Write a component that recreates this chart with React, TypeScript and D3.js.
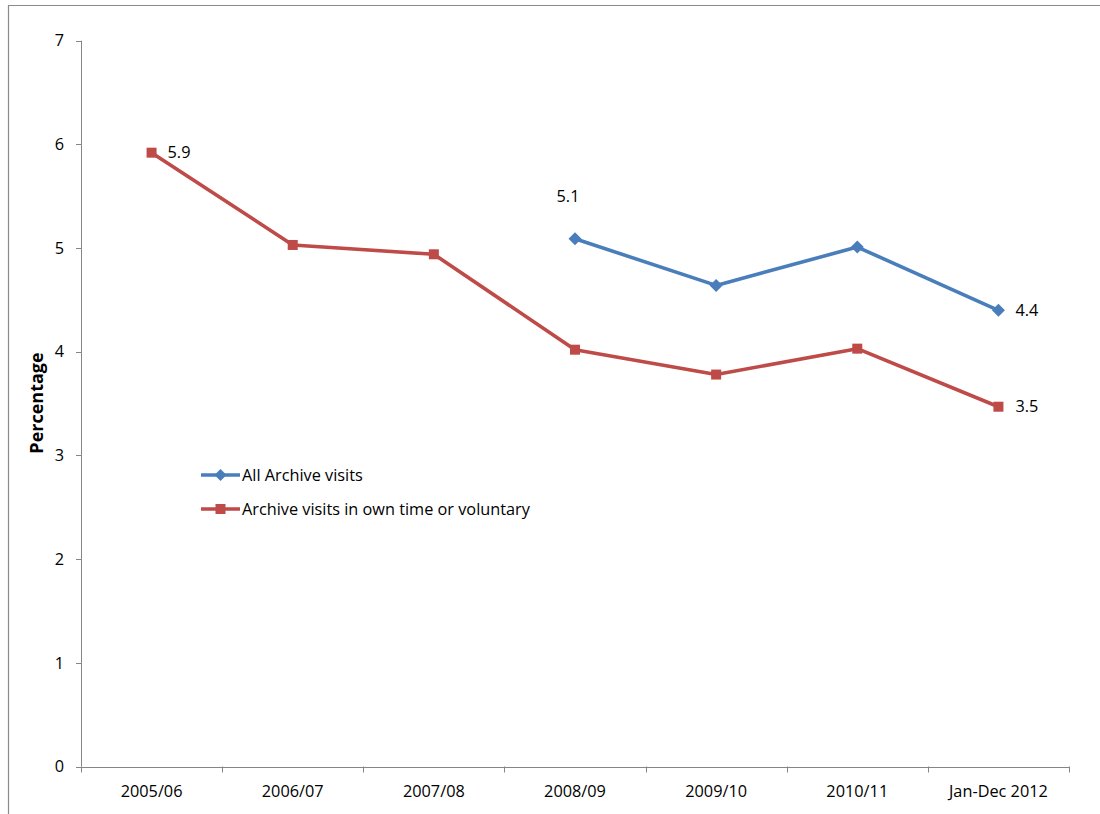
import React from "react";
import * as d3 from "d3";

const categories = ["2005/06", "2006/07", "2007/08", "2008/09", "2009/10", "2010/11", "Jan-Dec 2012"];
const allVisits: (number | null)[] = [null, null, null, 5.09, 4.64, 5.01, 4.4];
const ownTimeVisits: (number | null)[] = [5.92, 5.03, 4.94, 4.02, 3.78, 4.03, 3.47];
const yTicks = [0, 1, 2, 3, 4, 5, 6, 7];
const seriesNames = ["All Archive visits", "Archive visits in own time or voluntary"];
const allLabels = [{ i: 3, text: "5.1" }, { i: 6, text: "4.4" }];
const ownLabels = [{ i: 0, text: "5.9" }, { i: 6, text: "3.5" }];

const W = 1100;
const H = 814;
const left = 81;
const right = 1069;
const top = 40.7;
const bottom = 766.5;
const BLUE = "#4A7EBB";
const RED = "#BE4B48";
const AXIS = "#868686";
const FONT = "'Open Sans', sans-serif";
const FS = 16.3;

export default function App() {
  const x = d3.scaleBand<string>().domain(categories).range([left, right]);
  const cx = (i: number) => (x(categories[i]) as number) + x.bandwidth() / 2;
  const y = d3.scaleLinear().domain([0, 7]).range([bottom, top]);

  const line = d3
    .line<number | null>()
    .defined((d) => d != null)
    .x((_, i) => cx(i))
    .y((d) => y(d as number));

  const diamond = (px: number, py: number, r: number) =>
    `M${px},${py - r}L${px + r},${py}L${px},${py + r}L${px - r},${py}Z`;

  const boundaries = d3.range(categories.length + 1).map((i) => left + i * x.bandwidth());

  return (
    <svg width={W} height={H} style={{ position: "absolute", left: 0, top: 0, background: "#fff" }}>
      <rect x={0} y={0} width={W} height={H} fill="#fff" />
      <path d={`M8.5,${H + 2}V5.5H${W + 2}`} fill="none" stroke="#8a8a8a" strokeWidth={1.2} />
      {/* y axis */}
      <line x1={left + 0.5} x2={left + 0.5} y1={top} y2={bottom} stroke={AXIS} strokeWidth={1} />
      {yTicks.map((t) => (
        <g key={t}>
          <line x1={left - 5} x2={left} y1={Math.round(y(t)) + 0.5} y2={Math.round(y(t)) + 0.5} stroke={AXIS} />
          <text x={64} y={y(t)} dy="0.35em" textAnchor="end" fontFamily={FONT} fontSize={FS} fill="#000">
            {t}
          </text>
        </g>
      ))}
      {/* x axis */}
      <line x1={left} x2={right} y1={Math.round(bottom) + 0.5} y2={Math.round(bottom) + 0.5} stroke={AXIS} />
      {boundaries.map((b, i) => (
        <line key={i} x1={Math.round(b) + 0.5} x2={Math.round(b) + 0.5} y1={bottom} y2={bottom + 6} stroke={AXIS} />
      ))}
      {categories.map((c, i) => (
        <text key={c} x={cx(i)} y={796.5} textAnchor="middle" fontFamily={FONT} fontSize={FS} fill="#000">
          {c}
        </text>
      ))}
      <text
        transform={`translate(43,403) rotate(-90)`}
        textAnchor="middle"
        fontFamily={FONT}
        fontWeight="bold"
        fontSize={18}
        fill="#000"
      >
        Percentage
      </text>
      {/* series */}
      <path d={line(ownTimeVisits) || ""} fill="none" stroke={RED} strokeWidth={3.6} strokeLinejoin="round" />
      {ownTimeVisits.map((v, i) =>
        v == null ? null : <rect key={i} x={cx(i) - 5} y={y(v) - 5} width={10} height={10} fill={RED} />
      )}
      <path d={line(allVisits) || ""} fill="none" stroke={BLUE} strokeWidth={3.6} strokeLinejoin="round" />
      {allVisits.map((v, i) =>
        v == null ? null : <path key={i} d={diamond(cx(i), y(v), 6.5)} fill={BLUE} />
      )}
      {/* data labels */}
      <text x={cx(0) + 16} y={y(ownTimeVisits[0] as number)} dy="0.35em" fontFamily={FONT} fontSize={FS}>
        {ownLabels[0].text}
      </text>
      <text x={cx(6) + 17} y={y(ownTimeVisits[6] as number)} dy="0.35em" fontFamily={FONT} fontSize={FS}>
        {ownLabels[1].text}
      </text>
      <text x={cx(3) - 7} y={y(allVisits[3] as number) - 42} dy="0.35em" textAnchor="middle" fontFamily={FONT} fontSize={FS}>
        {allLabels[0].text}
      </text>
      <text x={cx(6) + 17} y={y(allVisits[6] as number)} dy="0.35em" fontFamily={FONT} fontSize={FS}>
        {allLabels[1].text}
      </text>
      {/* legend */}
      {seriesNames.map((n, i) => {
        const ly = 475 + i * 34;
        return (
          <g key={n}>
            <line x1={201} x2={240} y1={ly} y2={ly} stroke={i === 0 ? BLUE : RED} strokeWidth={3.6} />
            {i === 0 ? (
              <path d={diamond(220.5, ly, 6)} fill={BLUE} />
            ) : (
              <rect x={215.5} y={ly - 5} width={10} height={10} fill={RED} />
            )}
            <text x={242} y={ly} dy="0.35em" fontFamily={FONT} fontSize={FS} fill="#000">
              {n}
            </text>
          </g>
        );
      })}
    </svg>
  );
}
